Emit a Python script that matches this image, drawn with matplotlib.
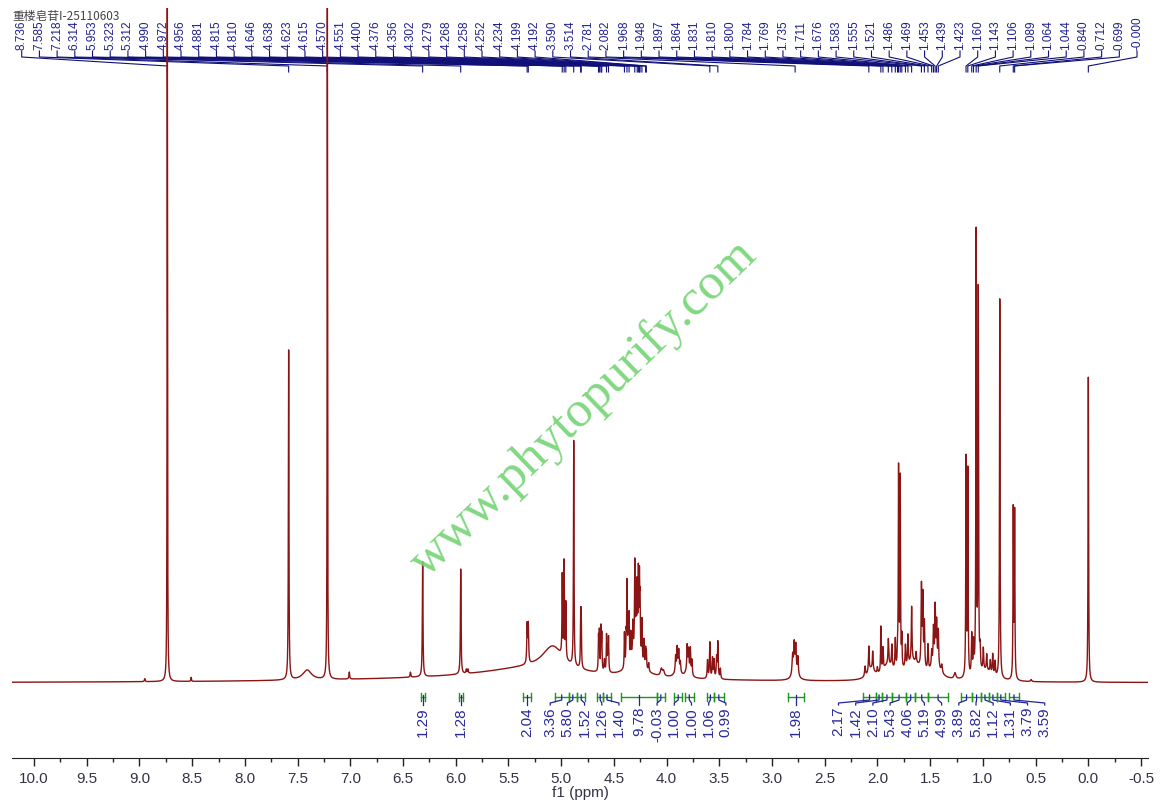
import numpy as np
import matplotlib
matplotlib.use("Agg")
import matplotlib.pyplot as plt
from matplotlib.ticker import MultipleLocator

plt.rcParams["font.family"] = ["Liberation Sans", "DejaVu Sans"]

TITLE = "重楼皂苷I-25110603"

# peaks: position (ppm), height, half width (ppm)
peak_ppm = [
    8.95, 8.736, 8.51, 7.585, 7.41, 7.218, 7.01, 6.43, 6.314, 5.953, 5.90, 5.885,
    5.50, 5.30, 5.08, 5.323, 5.312,
    4.990, 4.972, 4.956, 4.881, 4.815, 4.810,
    4.646, 4.638, 4.623, 4.615, 4.590, 4.570, 4.560, 4.551,
    4.29, 4.400, 4.384, 4.376, 4.365, 4.356, 4.340, 4.320, 4.302, 4.290, 4.279,
    4.268, 4.258, 4.252, 4.234, 4.214, 4.199, 4.192, 4.17, 4.05, 4.03,
    3.895, 3.915, 3.900, 3.885, 3.870, 3.80, 3.805, 3.792, 3.775, 3.760,
    3.612, 3.590, 3.565, 3.550, 3.526, 3.514, 3.490,
    2.78, 2.805, 2.790, 2.775, 2.755,
    2.06, 1.90, 1.66, 1.45,
    2.118, 2.082, 2.045, 2.001, 1.968, 1.948, 1.897, 1.864, 1.831, 1.810,
    1.800, 1.784, 1.769, 1.735, 1.711, 1.676, 1.634, 1.583, 1.570, 1.555,
    1.521, 1.486, 1.469, 1.453, 1.439, 1.423, 1.39, 1.265,
    0.97, 1.160, 1.143, 1.106, 1.089, 1.064, 1.044, 1.027, 0.996, 0.964,
    0.930, 0.907, 0.885, 0.840, 0.712, 0.699, 0.543, 0.000,
]
peak_height = [
    3, 720, 4, 330, 10, 720, 7, 5, 115, 105, 4, 4,
    4, 10, 24, 38, 38,
    80, 95, 55, 225, 48, 48,
    33, 38, 42, 35, 12, 36, 22, 34,
    28, 35, 28, 80, 40, 45, 25, 30, 85, 55, 60,
    75, 70, 50, 40, 25, 18, 16, 8, 7, 5,
    10, 15, 20, 18, 10, 8, 24, 20, 25, 15,
    18, 36, 20, 18, 20, 36, 10,
    8, 20, 28, 26, 18,
    10, 14, 18, 15,
    10, 25, 18, 6, 45, 22, 25, 22, 30, 20,
    200, 190, 30, 22, 30, 55, 10, 80, 70, 45,
    25, 15, 35, 55, 40, 35, 8, 6,
    10, 218, 205, 40, 30, 440, 380, 20, 22, 16,
    12, 20, 14, 380, 168, 165, 2, 305,
]
peak_width = [
    0.004, 0.0022, 0.003, 0.003, 0.05, 0.0022, 0.004, 0.004, 0.0035, 0.0035, 0.004, 0.004,
    2.0, 0.6, 0.12, 0.004, 0.004,
    0.003, 0.003, 0.003, 0.003, 0.003, 0.003,
    0.003, 0.003, 0.003, 0.003, 0.004, 0.003, 0.003, 0.003,
    0.06, 0.003, 0.003, 0.003, 0.003, 0.003, 0.003, 0.003, 0.003, 0.003, 0.003,
    0.003, 0.003, 0.003, 0.003, 0.003, 0.003, 0.003, 0.004, 0.01, 0.01,
    0.025, 0.004, 0.004, 0.004, 0.004, 0.025, 0.004, 0.004, 0.004, 0.004,
    0.004, 0.004, 0.004, 0.004, 0.004, 0.004, 0.004,
    0.03, 0.006, 0.005, 0.005, 0.005,
    0.04, 0.06, 0.09, 0.05,
    0.005, 0.004, 0.004, 0.004, 0.003, 0.004, 0.004, 0.004, 0.004, 0.003,
    0.003, 0.003, 0.003, 0.004, 0.004, 0.004, 0.004, 0.004, 0.004, 0.004,
    0.004, 0.004, 0.004, 0.004, 0.004, 0.004, 0.006, 0.01,
    0.08, 0.003, 0.003, 0.004, 0.004, 0.003, 0.003, 0.004, 0.004, 0.004,
    0.004, 0.004, 0.004, 0.003, 0.003, 0.003, 0.006, 0.003,
]

# picked peak labels along the top
shift_labels = [
    8.736, 7.585, 7.218, 6.314, 5.953, 5.323, 5.312, 4.990, 4.972, 4.956, 4.881,
    4.815, 4.810, 4.646, 4.638, 4.623, 4.615, 4.570, 4.551, 4.400, 4.376, 4.356,
    4.302, 4.279, 4.268, 4.258, 4.252, 4.234, 4.199, 4.192, 3.590, 3.514, 2.781,
    2.082, 1.968, 1.948, 1.897, 1.864, 1.831, 1.810, 1.800, 1.784, 1.769,
    1.735, 1.711, 1.676, 1.583, 1.555, 1.521, 1.486, 1.469, 1.453, 1.439, 1.423,
    1.160, 1.143, 1.106, 1.089, 1.064, 1.044, 0.840, 0.712, 0.699, -0.000,
]

# integrals
int_start = [6.33, 5.97, 5.36, 5.06, 4.93, 4.85, 4.66, 4.60, 4.43, 4.09, 3.93, 3.83,
             3.62, 3.55, 2.85, 2.14, 2.01, 1.96, 1.86, 1.73, 1.64, 1.52, 1.21, 1.10,
             1.02, 0.94, 0.87, 0.75]
int_end = [6.29, 5.93, 5.29, 4.93, 4.85, 4.77, 4.60, 4.53, 4.09, 4.02, 3.85, 3.74,
           3.55, 3.46, 2.70, 2.01, 1.96, 1.86, 1.73, 1.64, 1.52, 1.33, 1.10, 1.02,
           0.94, 0.87, 0.79, 0.66]
int_values = ["1.29", "1.28", "2.04", "3.36", "5.80", "1.52", "1.26", "1.40", "9.78",
              "-0.03", "1.00", "1.00", "1.06", "0.99", "1.98", "2.17", "1.42", "2.10",
              "5.43", "4.06", "5.19", "4.99", "3.89", "5.82", "1.12", "1.31", "3.79", "3.59"]

SPEC_COLOR = "#8b1414"
LABEL_BLUE = "#1f1f8f"
INT_GREEN = "#1c981c"
XMAX, XMIN = 10.209, -0.566


def spectrum(x):
    y = np.zeros_like(x)
    for p, h, w in zip(peak_ppm, peak_height, peak_width):
        y += h / (1.0 + ((x - p) / w) ** 2)
    return y


def spread_labels(centers, gap):
    # group overlapping labels and centre each group on its members
    clusters = [[i] for i in range(len(centers))]

    def place(cl):
        m = np.mean([centers[i] for i in cl])
        n = len(cl)
        return [m + gap * ((n - 1) / 2 - k) for k in range(n)]

    merged = True
    while merged:
        merged = False
        for j in range(len(clusters) - 1):
            a, b = place(clusters[j]), place(clusters[j + 1])
            if a[-1] - b[0] < gap:
                clusters[j] = clusters[j] + clusters.pop(j + 1)
                merged = True
                break
    out = []
    for cl in clusters:
        out.extend(place(cl))
    return out


fig = plt.figure(figsize=(11.62, 8.07), dpi=100)
ax = fig.add_axes([12 / 1162, 49 / 807, 1136 / 1162, 750 / 807])

x = np.linspace(10.25, -0.6, 40000)
ax.plot(x, spectrum(x), color=SPEC_COLOR, lw=1.0, zorder=3)

# peak labels with leader lines
label_pos = np.linspace(10.117, -0.462, len(shift_labels))
for lp, v in zip(label_pos, shift_labels):
    ax.text(lp, 633, f"{v:.3f}", rotation=90, ha="center", va="bottom",
            fontsize=8.5, color=LABEL_BLUE)
    ax.plot([lp, lp, abs(v), abs(v)], [632, 626, 617, 611], color="#101078",
            lw=0.8, zorder=2)

# integrals
centers = [(s + e) / 2 for s, e in zip(int_start, int_end)]
lab_x = spread_labels(centers, 0.163)
for s, e, c, lx, val in zip(int_start, int_end, centers, lab_x, int_values):
    ax.plot([s, e], [-14, -14], color=INT_GREEN, lw=1.0)
    ax.plot([s, s], [-10, -18], color=INT_GREEN, lw=1.0)
    ax.plot([e, e], [-10, -18], color=INT_GREEN, lw=1.0)
    ax.plot([c, c, lx, lx], [-12, -17, -20, -22], color="#22229a", lw=0.9)
    ax.text(lx, -24, val, rotation=90, ha="center", va="top", fontsize=11,
            color="#2a2a9c")

ax.set_xlim(XMAX, XMIN)
ax.set_ylim(-75, 675)
for side in ("left", "right", "top"):
    ax.spines[side].set_visible(False)
ax.spines["bottom"].set_color("#222222")
ax.set_yticks([])
major = np.arange(-0.5, 10.01, 0.5)
ax.set_xticks(major)
ax.set_xticklabels([f"{abs(t):.1f}" if abs(t) < 1e-9 else f"{t:.1f}" for t in major])
ax.xaxis.set_minor_locator(MultipleLocator(0.25))
ax.tick_params(axis="x", which="major", length=5.5, width=1.0, pad=4.5,
               labelsize=11, labelcolor="#333344", color="#222222")
ax.tick_params(axis="x", which="minor", length=3, width=1.0, color="#222222")
ax.set_xlabel("f1 (ppm)", fontsize=11, color="#333344", labelpad=0)
ax.patch.set_alpha(0)

fig.text(584 / 1162, 1 - 409 / 807, "www.phytopurify.com", rotation=44,
         ha="center", va="center", fontsize=37, family="Liberation Serif",
         color="#74d474", alpha=0.9, rotation_mode="anchor", zorder=5)
fig.text(12 / 1162, 1 - 10 / 807, TITLE, ha="left", va="top", fontsize=8.5,
         color="#444444", family=["Noto Sans CJK SC", "DejaVu Sans"])

fig.savefig("out.png", dpi=100)
plt.close(fig)
